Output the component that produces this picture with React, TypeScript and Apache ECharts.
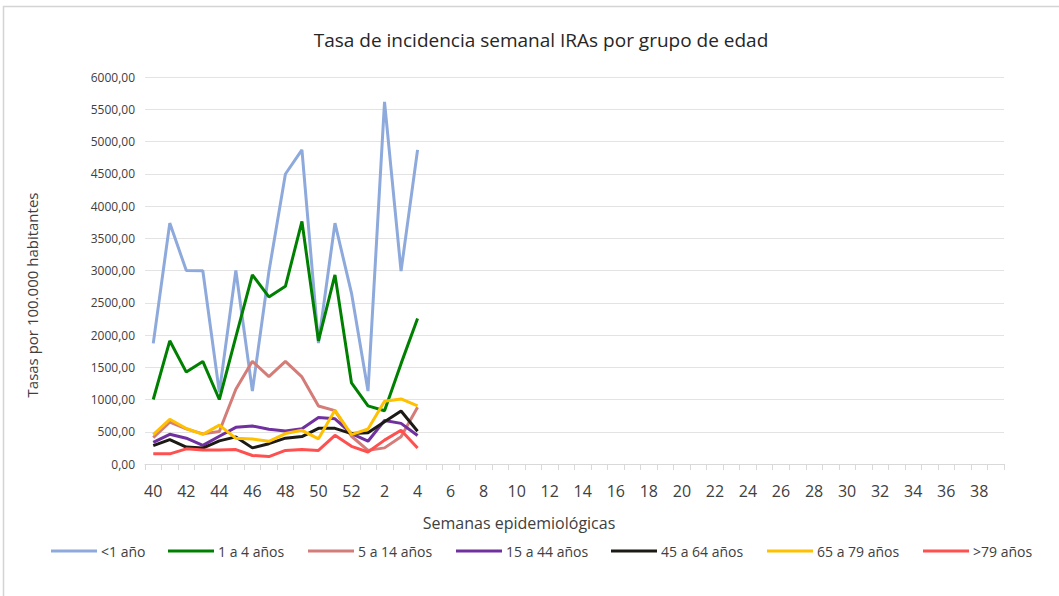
import React, { useEffect, useRef } from "react";
import * as echarts from "echarts";

const weeks = [
  "40", "41", "42", "43", "44", "45", "46", "47", "48", "49", "50", "51", "52",
  "1", "2", "3", "4", "5", "6", "7", "8", "9", "10", "11", "12", "13", "14", "15",
  "16", "17", "18", "19", "20", "21", "22", "23", "24", "25", "26", "27", "28",
  "29", "30", "31", "32", "33", "34", "35", "36", "37", "38", "39",
];

const seriesNames = [
  "<1 año", "1 a 4 años", "5 a 14 años", "15 a 44 años", "45 a 64 años", "65 a 79 años", ">79 años",
];
const seriesColors = ["#8EA9DB", "#008000", "#D37C78", "#7030A0", "#1C1A14", "#FFC000", "#FF5050"];

const menor1 = [1870, 3735, 3000, 2995, 1110, 3000, 1130, 2980, 4496, 4870, 1875, 3735, 2650, 1130, 5615, 2990, 4870];
const de1a4 = [1000, 1910, 1425, 1590, 1000, 1970, 2932, 2590, 2755, 3762, 1910, 2932, 1256, 902, 825, 1556, 2256];
const de5a14 = [410, 648, 545, 467, 505, 1160, 1592, 1355, 1592, 1350, 900, 828, 430, 211, 250, 421, 880];
const de15a44 = [335, 460, 400, 289, 430, 568, 589, 540, 512, 545, 720, 700, 472, 353, 674, 630, 442];
const de45a64 = [285, 379, 262, 247, 358, 420, 250, 315, 400, 425, 553, 553, 472, 485, 655, 822, 508];
const de65a79 = [455, 693, 550, 460, 603, 398, 388, 352, 472, 522, 390, 832, 456, 542, 972, 1008, 900];
const mayor79 = [157, 157, 235, 218, 218, 224, 132, 115, 210, 224, 210, 444, 274, 186, 370, 524, 247];

const allSeries = [menor1, de1a4, de5a14, de15a44, de45a64, de65a79, mayor79];
const legendLeft = [51, 168, 308, 456, 611, 767, 923];

const FONT = "'Open Sans', 'Noto Sans', sans-serif";

export default function App() {
  const ref = useRef<HTMLDivElement>(null);
  useEffect(() => {
    document.body.style.margin = "0";
    const chart = echarts.init(ref.current!, null, { renderer: "svg" });
    chart.setOption({
      animation: false,
      backgroundColor: "#ffffff",
      textStyle: { fontFamily: FONT },
      title: {
        text: "Tasa de incidencia semanal IRAs por grupo de edad",
        left: 536,
        textAlign: "center",
        top: 25,
        textStyle: { fontFamily: FONT, fontSize: 19, fontWeight: "normal", color: "#262626" },
      },
      legend: seriesNames.map((n, i) => ({
        data: [n],
        left: legendLeft[i],
        top: 544,
        icon: "rect",
        itemWidth: 46,
        itemHeight: 3,
        itemGap: 4,
        padding: 0,
        textStyle: { fontFamily: FONT, fontSize: 14, color: "#404040", padding: [0, 0, 0, -1] },
      })),
      grid: { left: 145, right: 55, top: 77, bottom: 132, containLabel: false },
      xAxis: {
        type: "category",
        data: weeks,
        boundaryGap: true,
        axisLine: { lineStyle: { color: "#d9d9d9", width: 1 } },
        axisTick: { show: true, interval: 0, length: 6, lineStyle: { color: "#d9d9d9" } },
        axisLabel: { interval: 1, fontSize: 16, color: "#404040", margin: 19, fontFamily: FONT },
        splitLine: { show: false },
      },
      yAxis: {
        type: "value",
        min: 0,
        max: 6000,
        interval: 500,
        axisLine: { show: false },
        axisTick: { show: false },
        axisLabel: {
          fontSize: 12,
          color: "#404040",
          margin: 10,
          fontFamily: FONT,
          formatter: (v: number) => v.toFixed(2).replace(".", ","),
        },
        splitLine: { lineStyle: { color: "#e3e3e3", width: 1 } },
      },
      graphic: [
        {
          type: "rect",
          shape: { x: 3.5, y: 6.5, width: 1100, height: 700 },
          style: { fill: "none", stroke: "#d4d4d4", lineWidth: 1.5 },
          silent: true,
        },
        {
          type: "text",
          x: 519,
          y: 523,
          style: {
            text: "Semanas epidemiológicas",
            fontFamily: FONT,
            fontSize: 16,
            fill: "#404040",
            textAlign: "center",
            textVerticalAlign: "middle",
          },
        },
        {
          type: "text",
          x: 32,
          y: 295,
          rotation: Math.PI / 2,
          style: {
            text: "Tasas por 100.000 habitantes",
            fontFamily: FONT,
            fontSize: 15,
            fill: "#404040",
            textAlign: "center",
            textVerticalAlign: "middle",
          },
        },
      ],
      series: allSeries.map((d, i) => ({
        name: seriesNames[i],
        type: "line",
        data: d,
        symbol: "none",
        showSymbol: false,
        lineStyle: { color: seriesColors[i], width: 3 },
        itemStyle: { color: seriesColors[i] },
      })),
    });
    return () => chart.dispose();
  }, []);
  return <div ref={ref} style={{ width: 1059, height: 596 }} />;
}
